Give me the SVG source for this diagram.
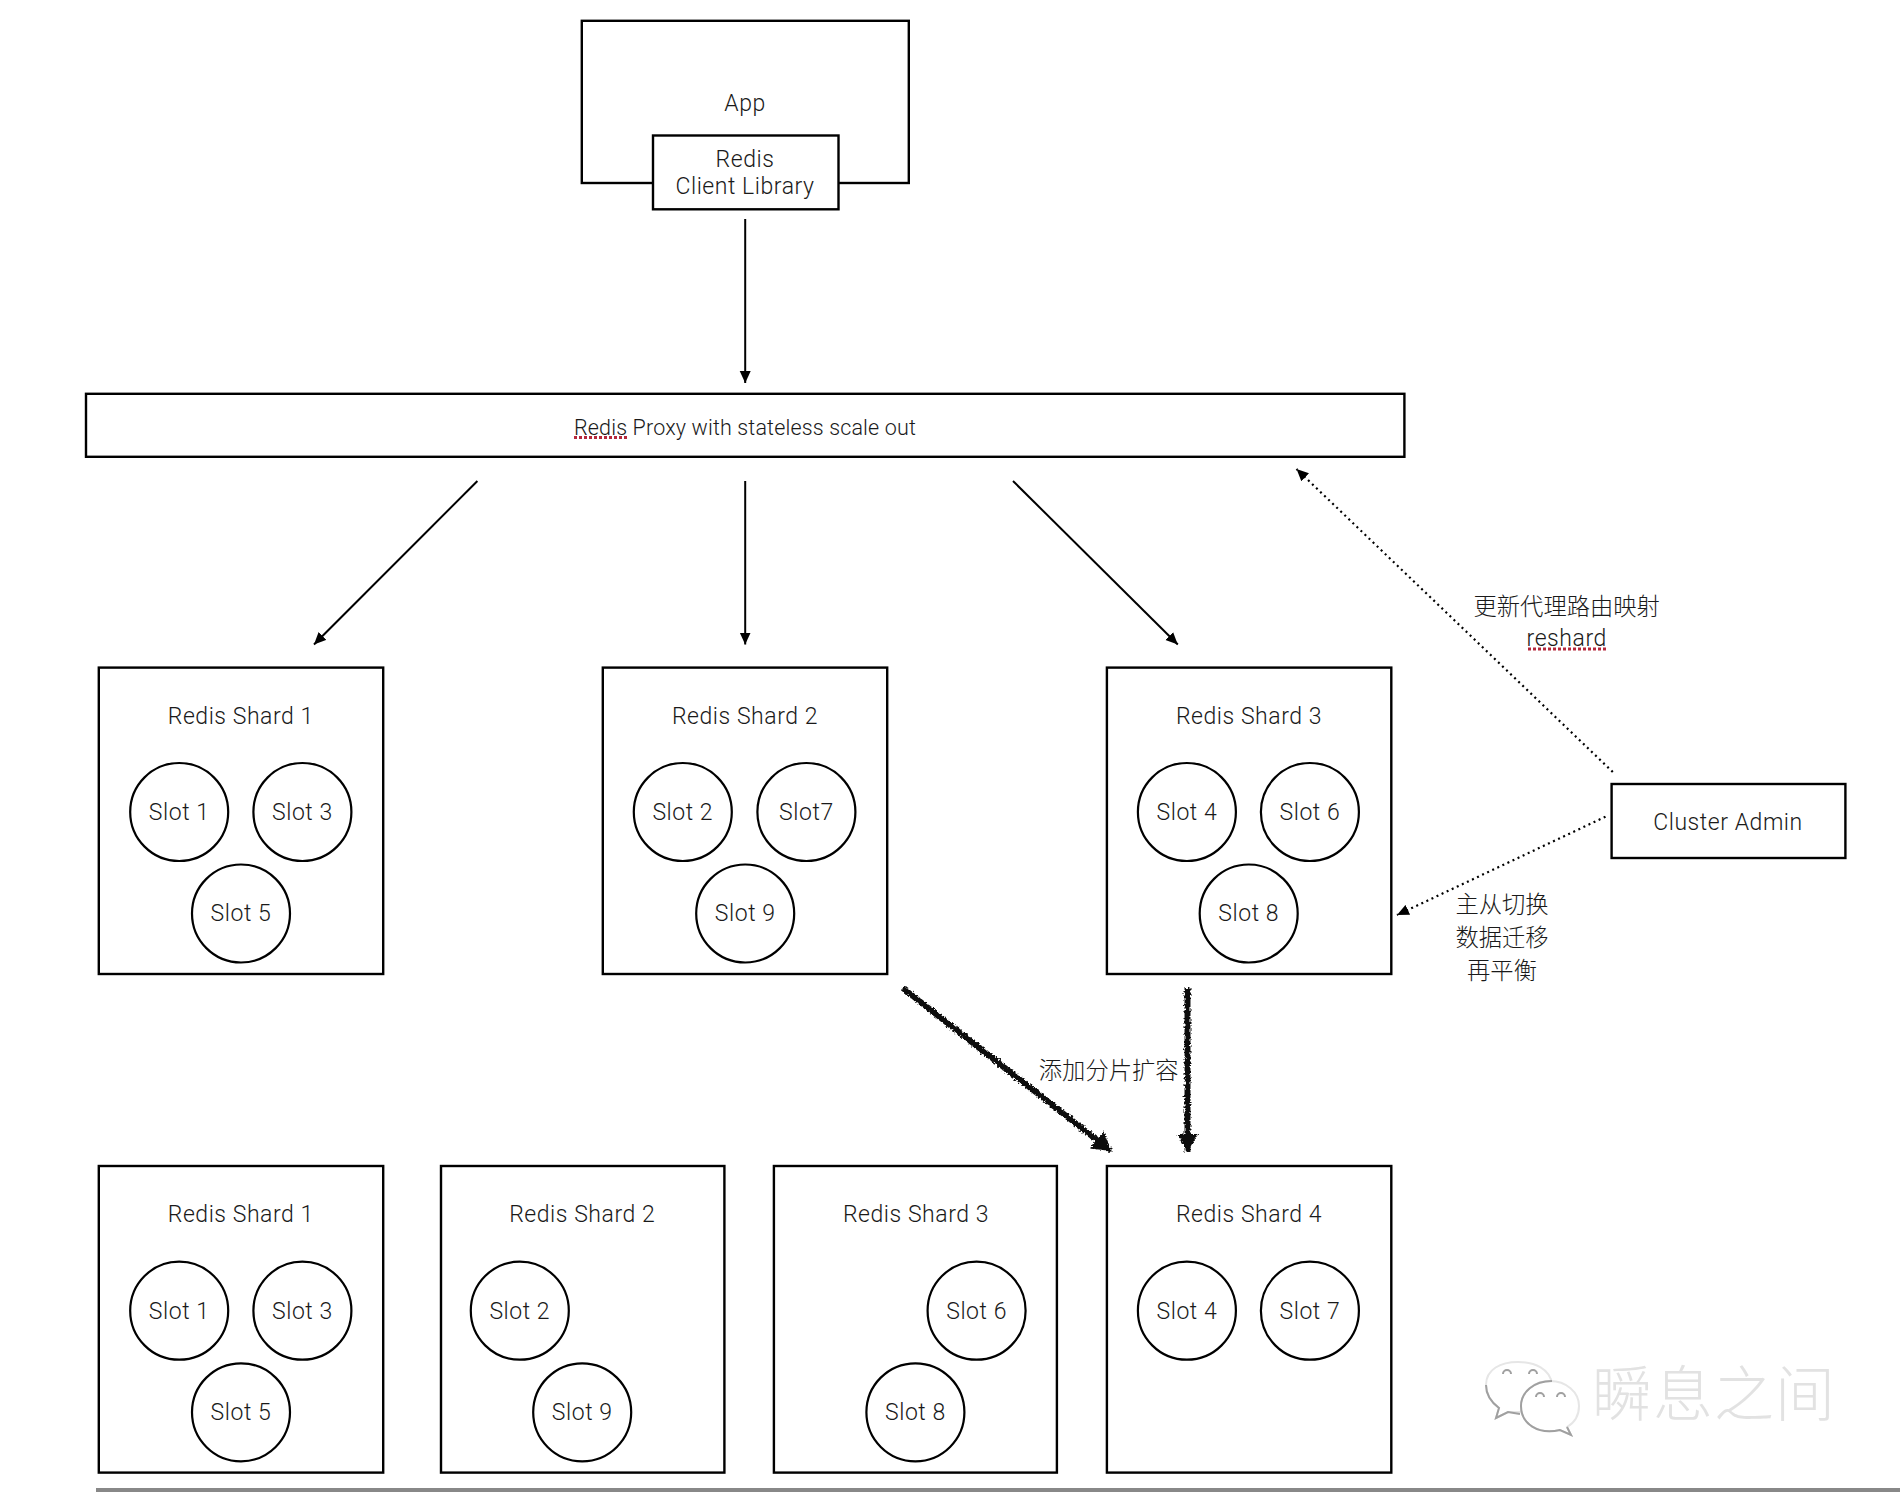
<svg xmlns="http://www.w3.org/2000/svg" width="1900" height="1492" viewBox="0 0 1900 1492">
<style>
text{font-family:Roboto,"Liberation Sans","Noto Sans CJK SC",sans-serif;font-weight:300;font-size:23px;letter-spacing:.55px;fill:#1a1a1a;text-anchor:middle}
text.zh{font-family:"Noto Sans CJK SC",sans-serif;font-weight:300;font-size:23.3px;letter-spacing:0}
text.px{font-size:21.500px;letter-spacing:.15px}
.box{fill:#fff;stroke:#000;stroke-width:2.4}
.slot{fill:#fff;stroke:#000;stroke-width:2.2}
.conn{fill:none;stroke:#000;stroke-width:2}
.dot{fill:none;stroke:#000;stroke-width:2.2;stroke-dasharray:2 3.6}
.thick{fill:none;stroke:#111;stroke-width:6}
.spell{fill:none;stroke:#b5283c;stroke-width:3;stroke-dasharray:3 2}
text.wm{font-family:"Noto Sans CJK SC",sans-serif;font-weight:300;font-size:60px;fill:#e2e2e2;letter-spacing:1px;text-anchor:start}
.bub{fill:#fff;stroke:#e6e6e6;stroke-width:2}
.shade{fill:none;stroke:#a0a0a0;stroke-width:2}
</style>
<defs>
<marker id="arr" markerUnits="userSpaceOnUse" markerWidth="13" markerHeight="12" refX="12" refY="6" orient="auto"><path d="M0,0.5 L12,6 L0,11.500z" fill="#000"/></marker>
<marker id="big" markerUnits="userSpaceOnUse" markerWidth="20" markerHeight="24" refX="18" refY="12" orient="auto"><path d="M0,1 L18,12 L0,23z" fill="#111"/></marker>
<filter id="rough" filterUnits="userSpaceOnUse" x="0" y="0" width="1900" height="1492"><feTurbulence type="fractalNoise" baseFrequency="0.45" numOctaves="2" seed="3" result="n"/><feDisplacementMap in="SourceGraphic" in2="n" scale="5" xChannelSelector="R" yChannelSelector="G"/></filter>
</defs>
<rect width="1900" height="1492" fill="#fff"/>
<g id="connectors">
<line class="conn" x1="745.200" y1="219" x2="745.200" y2="383" marker-end="url(#arr)"/>
<line class="conn" x1="477.400" y1="481" x2="314" y2="644.500" marker-end="url(#arr)"/>
<line class="conn" x1="745.200" y1="481" x2="745.200" y2="644.500" marker-end="url(#arr)"/>
<line class="conn" x1="1013" y1="481" x2="1177.800" y2="644.500" marker-end="url(#arr)"/>
<line class="dot" x1="1612.800" y1="772" x2="1296.500" y2="469" marker-end="url(#arr)"/>
<line class="dot" x1="1605.500" y1="816.700" x2="1397" y2="915" marker-end="url(#arr)"/>
<g filter="url(#rough)">
<line x1="902.700" y1="988" x2="1111" y2="1151" class="thick" marker-end="url(#big)"/>
<line x1="1187.500" y1="988" x2="1187.500" y2="1151.500" class="thick" marker-end="url(#big)"/>
</g>
</g>
<g id="app"><rect class="box" x="581.800" y="20.800" width="327" height="162.200"/><text x="745" y="110.500">App</text></g>
<g id="client-library"><rect class="box" x="653" y="135.500" width="185.500" height="73.800"/><text x="745" y="166.500">Redis</text><text x="745" y="194">Client Library</text></g>
<g id="proxy"><rect class="box" x="86" y="393.800" width="1318.400" height="63"/><text class="px" x="745" y="434.500">Redis Proxy with stateless scale out</text><line class="spell" x1="574" y1="437.500" x2="627" y2="437.500"/></g>

<g id="top-shard-1"><rect class="box" x="98.800" y="667.600" width="284.400" height="306.400"/><text x="240.800" y="724">Redis Shard 1</text>
<circle class="slot" cx="179.200" cy="812" r="49"/><text x="179.200" y="819.800">Slot 1</text>
<circle class="slot" cx="302.400" cy="812" r="49"/><text x="302.400" y="819.800">Slot 3</text>
<circle class="slot" cx="241" cy="913.500" r="49"/><text x="241" y="921.300">Slot 5</text></g>
<g id="top-shard-2"><rect class="box" x="602.800" y="667.600" width="284.400" height="306.400"/><text x="745" y="724">Redis Shard 2</text>
<circle class="slot" cx="682.800" cy="812" r="49"/><text x="682.800" y="819.800">Slot 2</text>
<circle class="slot" cx="806.400" cy="812" r="49"/><text x="806.400" y="819.800">Slot7</text>
<circle class="slot" cx="745.200" cy="913.500" r="49"/><text x="745.200" y="921.300">Slot 9</text></g>
<g id="top-shard-3"><rect class="box" x="1106.900" y="667.600" width="284.400" height="306.400"/><text x="1249" y="724">Redis Shard 3</text>
<circle class="slot" cx="1186.900" cy="812" r="49"/><text x="1186.900" y="819.800">Slot 4</text>
<circle class="slot" cx="1309.900" cy="812" r="49"/><text x="1309.900" y="819.800">Slot 6</text>
<circle class="slot" cx="1248.700" cy="913.500" r="49"/><text x="1248.700" y="921.300">Slot 8</text></g>

<g id="bottom-shard-1"><rect class="box" x="98.800" y="1166" width="284.400" height="306.600"/><text x="240.800" y="1222.300">Redis Shard 1</text>
<circle class="slot" cx="179.200" cy="1310.700" r="49"/><text x="179.200" y="1318.500">Slot 1</text>
<circle class="slot" cx="302.400" cy="1310.700" r="49"/><text x="302.400" y="1318.500">Slot 3</text>
<circle class="slot" cx="241" cy="1412.300" r="49"/><text x="241" y="1420">Slot 5</text></g>
<g id="bottom-shard-2"><rect class="box" x="441" y="1166" width="283.400" height="306.600"/><text x="582.200" y="1222.300">Redis Shard 2</text>
<circle class="slot" cx="519.800" cy="1310.700" r="49"/><text x="519.800" y="1318.500">Slot 2</text>
<circle class="slot" cx="582.200" cy="1412.300" r="49"/><text x="582.200" y="1420">Slot 9</text></g>
<g id="bottom-shard-3"><rect class="box" x="773.900" y="1166" width="283" height="306.600"/><text x="916" y="1222.300">Redis Shard 3</text>
<circle class="slot" cx="976.600" cy="1310.700" r="49"/><text x="976.600" y="1318.500">Slot 6</text>
<circle class="slot" cx="915.400" cy="1412.300" r="49"/><text x="915.400" y="1420">Slot 8</text></g>
<g id="bottom-shard-4"><rect class="box" x="1106.900" y="1166" width="284.400" height="306.600"/><text x="1249" y="1222.300">Redis Shard 4</text>
<circle class="slot" cx="1186.900" cy="1310.700" r="49"/><text x="1186.900" y="1318.500">Slot 4</text>
<circle class="slot" cx="1309.900" cy="1310.700" r="49"/><text x="1309.900" y="1318.500">Slot 7</text></g>

<g id="cluster-admin"><rect class="box" x="1611.600" y="784" width="233.800" height="74"/><text x="1728" y="830">Cluster Admin</text></g>
<g id="label-reshard"><text class="zh" x="1566.700" y="615">更新代理路由映射</text><text x="1566.700" y="646">reshard</text><line class="spell" x1="1528" y1="649" x2="1606" y2="649"/></g>
<g id="label-failover"><text class="zh" x="1502" y="913">主从切换</text><text class="zh" x="1502" y="946">数据迁移</text><text class="zh" x="1502" y="979">再平衡</text></g>
<g id="label-scale"><text class="zh" x="1108.700" y="1079">添加分片扩容</text></g>

<g id="watermark">
<path class="bub" d="M1486,1385 C1486,1369 1501,1362 1518,1362 C1535,1362 1550,1369 1552,1384 L1520,1412 L1508,1412 L1496,1418 L1499,1408 C1491,1402 1486,1394 1486,1385z"/>
<path class="shade" d="M1486,1385 C1486,1394 1491,1402 1499,1408 L1496,1418 L1508,1412 L1520,1414"/>
<path class="bub" d="M1521,1406 C1521,1392 1534,1381 1550,1381 C1566,1381 1579,1392 1579,1406 C1579,1416 1574,1423 1567,1427 L1571,1435 L1560,1430 C1538,1435 1521,1424 1521,1406z"/>
<path class="shade" d="M1552,1381 C1534,1381 1521,1392 1521,1406 C1521,1424 1538,1435 1560,1430 L1571,1435 L1567,1427"/>
<g class="shade"><path d="M1503,1374a4,4 0 0 1 8,0"/><path d="M1529,1374a4,4 0 0 1 8,0"/><path d="M1536,1397a4,4 0 0 1 8,0"/><path d="M1557,1397a4,4 0 0 1 8,0"/></g>
<text class="wm" x="1592" y="1416">瞬息之间</text>
</g>
<rect id="bottom-bar" x="96" y="1488" width="1804" height="4" fill="#888"/>
</svg>
